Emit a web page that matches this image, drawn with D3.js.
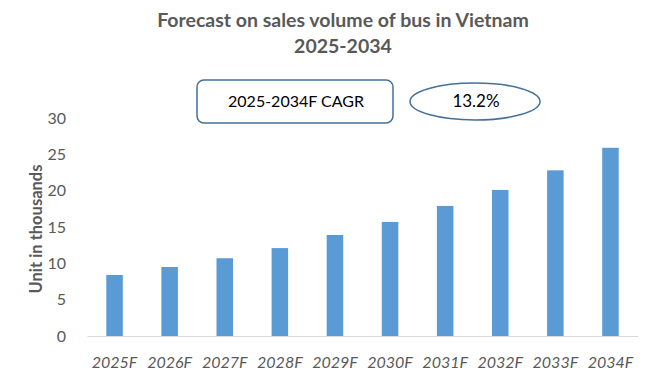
<!DOCTYPE html>
<html>
<head>
<meta charset="utf-8">
<script src="https://cdn.jsdelivr.net/npm/d3@7"></script>
<style>
  body { margin: 0; background: #fff; }
  text { font-family: Lato, "Open Sans", sans-serif; }
</style>
</head>
<body>
<script>
var years = ["2025F", "2026F", "2027F", "2028F", "2029F", "2030F", "2031F", "2032F", "2033F", "2034F"];
var sales = [8.4, 9.5, 10.7, 12.1, 13.9, 15.7, 17.9, 20.1, 22.8, 25.9];
var yTicks = [0, 5, 10, 15, 20, 25, 30];
var cagrLabel = "2025-2034F CAGR";
var cagrValue = "13.2%";

var svg = d3.select("body")
    .append("svg")
    .attr("width", 650)
    .attr("height", 375)
    .style("display", "block");

margin = {top: 118, right: 12, bottom: 39, left: 87};
width = 650 - margin.left - margin.right;
height = 375 - margin.top - margin.bottom;

var g = svg.append("g").attr("transform", "translate(" + margin.left + "," + margin.top + ")");

var x = d3.scaleBand()
    .domain(years)
    .range([0, width])
    .paddingInner(0.7)
    .paddingOuter(0.35);

var y = d3.scaleLinear()
    .domain([0, 30])
    .range([height, 0]);

// y axis labels only, no line
var yAxis = g.append("g")
    .call(d3.axisLeft(y).tickValues(yTicks).tickSize(0).tickPadding(21));
yAxis.select(".domain").remove();
yAxis.selectAll("text")
    .style("font-size", "16px")
    .attr("fill", "#595959");

// x axis
var xAxis = g.append("g")
    .attr("transform", "translate(0," + height + ")")
    .call(d3.axisBottom(x).tickSize(0).tickPadding(21));
xAxis.select(".domain").attr("stroke", "#d9d9d9");
xAxis.selectAll("text")
    .style("font-size", "16px")
    .style("font-style", "italic")
    .attr("fill", "#595959");

g.selectAll("rect.bar")
    .data(sales)
    .enter()
    .append("rect")
    .attr("class", "bar")
    .attr("x", function(d, i) { return x(years[i]); })
    .attr("y", function(d) { return y(d); })
    .attr("width", x.bandwidth())
    .attr("height", function(d) { return height - y(d); })
    .attr("fill", "#5b9bd5");

// y axis title
svg.append("text")
    .attr("transform", "translate(42," + 229 + ") rotate(-90)")
    .attr("text-anchor", "middle")
    .style("font-size", "16.5px")
    .style("font-weight", "bold")
    .attr("fill", "#595959")
    .text("Unit in thousands");

// title
svg.append("text")
    .attr("x", 343)
    .attr("y", 27)
    .attr("text-anchor", "middle")
    .style("font-size", "19.5px")
    .style("font-weight", "bold")
    .attr("fill", "#595959")
    .text("Forecast on sales volume of bus in Vietnam");
svg.append("text")
    .attr("x", 343)
    .attr("y", 53)
    .attr("text-anchor", "middle")
    .style("font-size", "19.5px")
    .style("font-weight", "bold")
    .attr("fill", "#595959")
    .text("2025-2034");

// CAGR box
svg.append("rect")
    .attr("x", 197)
    .attr("y", 80)
    .attr("width", 196)
    .attr("height", 43)
    .attr("rx", 7)
    .attr("fill", "#fff")
    .attr("stroke", "#41719c")
    .attr("stroke-width", 1.5);
svg.append("text")
    .attr("x", 296)
    .attr("y", 107)
    .attr("text-anchor", "middle")
    .style("font-size", "16px")
    .attr("fill", "#000")
    .text(cagrLabel);

svg.append("ellipse")
    .attr("cx", 475)
    .attr("cy", 101.5)
    .attr("rx", 65)
    .attr("ry", 18.5)
    .attr("fill", "#fff")
    .attr("stroke", "#41719c")
    .attr("stroke-width", 1.5);
svg.append("text")
    .attr("x", 476)
    .attr("y", 107)
    .attr("text-anchor", "middle")
    .style("font-size", "17px")
    .attr("fill", "#000")
    .text(cagrValue);
</script>
</body>
</html>
